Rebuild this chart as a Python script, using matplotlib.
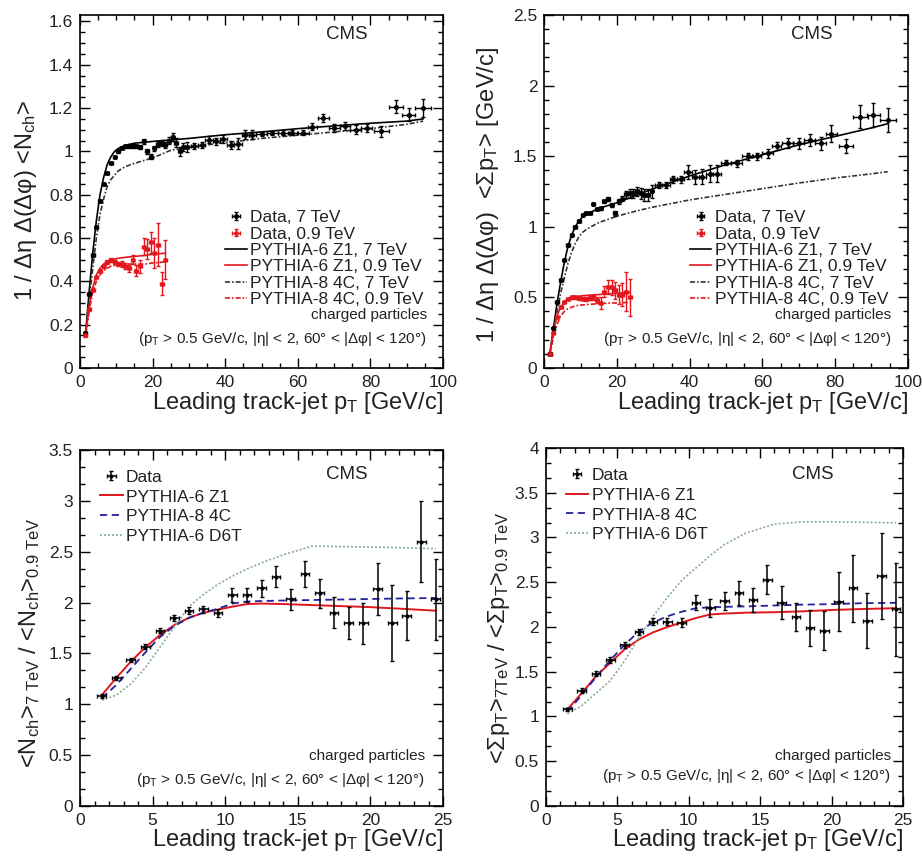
import numpy as np
import matplotlib
matplotlib.use("Agg")
import matplotlib.pyplot as plt
from matplotlib.ticker import MultipleLocator, AutoMinorLocator, FuncFormatter
from matplotlib.legend_handler import HandlerErrorbar

plt.rcParams["font.family"] = ["Liberation Sans", "DejaVu Sans"]
plt.rcParams["mathtext.fontset"] = "custom"
plt.rcParams["mathtext.rm"] = "Liberation Sans"
plt.rcParams["mathtext.it"] = "Liberation Sans"
plt.rcParams["mathtext.default"] = "regular"

TEXT = "#222222"
RED = "#e3161d"
BLUE = "#23239a"
GREEN = "#86ad92"
TITLE_SIZE = 17

# ---- leading track-jet pT binning (GeV/c) ----
pt_lo = [1.5, 2.5, 3.5, 4.5, 5.5, 6.5, 7.5, 8.5, 9.5, 10.5, 11.5, 12.5, 13.5, 14.5, 15.5,
         16.5, 17.5, 18.5, 19.5, 20.5, 21.5, 22.5, 23.5, 24.5, 25.5, 26.5, 27.5, 28.5, 29.5]
pt_hi = [31.5, 33.5, 35.5, 37.5, 39.5, 41.5, 43.5, 45.5, 47.5, 50, 53, 56, 58.5, 61.5,
         64, 67, 70, 73, 76, 79, 83, 87, 90.5, 94.5]
pt_hi_halfwidth = [1, 1, 1, 1, 1, 1, 1, 1, 1, 1.5, 1.5, 1.5, 1.25, 1.5, 1.25, 1.5, 1.5, 1.5,
                   1.5, 1.5, 2, 2, 1.75, 2.25]
pt_09 = pt_lo[:23]

# ---- charged multiplicity density, 7 TeV ----
nch7_lo = [0.16, 0.34, 0.52, 0.65, 0.77, 0.85, 0.90, 0.946, 0.976, 1.0, 1.015, 1.023, 1.025,
           1.025, 1.023, 1.02, 1.046, 1.0, 0.976, 1.015, 1.034, 1.04, 1.03, 1.05, 1.065,
           1.04, 1.0, 1.02, 1.02]
nch7_lo_err = [0.005, 0.005, 0.005, 0.005, 0.005, 0.005, 0.005, 0.005, 0.005, 0.006, 0.006,
               0.006, 0.007, 0.007, 0.008, 0.008, 0.01, 0.01, 0.012, 0.012, 0.012, 0.014,
               0.015, 0.016, 0.018, 0.02, 0.02, 0.02, 0.022]
nch7_hi = [1.025, 1.03, 1.054, 1.046, 1.057, 1.03, 1.035, 1.077, 1.077, 1.081, 1.085, 1.087,
           1.087, 1.087, 1.115, 1.154, 1.108, 1.118, 1.10, 1.108, 1.092, 1.207, 1.169, 1.20]
nch7_hi_err = [0.015, 0.015, 0.015, 0.015, 0.02, 0.02, 0.025, 0.02, 0.02, 0.01, 0.01, 0.01,
               0.01, 0.012, 0.015, 0.02, 0.02, 0.02, 0.02, 0.02, 0.025, 0.03, 0.03, 0.04]
# ---- charged multiplicity density, 0.9 TeV ----
nch09 = [0.15, 0.27, 0.36, 0.42, 0.45, 0.47, 0.49, 0.50, 0.49, 0.48, 0.48, 0.47, 0.46, 0.50,
         0.45, 0.47, 0.56, 0.55, 0.58, 0.53, 0.57, 0.39, 0.50]
nch09_err = [0.005, 0.005, 0.005, 0.005, 0.006, 0.007, 0.008, 0.009, 0.01, 0.011, 0.012, 0.013,
             0.015, 0.02, 0.025, 0.03, 0.04, 0.045, 0.05, 0.07, 0.1, 0.055, 0.09]

# ---- sum pT density, 7 TeV and 0.9 TeV ----
sum7_lo = [0.10, 0.28, 0.47, 0.62, 0.765, 0.87, 0.94, 1.0, 1.04, 1.083, 1.10, 1.10, 1.16,
           1.126, 1.13, 1.18, 1.20, 1.155, 1.095, 1.18, 1.20, 1.23, 1.237, 1.237, 1.25,
           1.237, 1.225, 1.225, 1.25]
sum7_lo_err = [0.005, 0.005, 0.005, 0.005, 0.005, 0.005, 0.005, 0.005, 0.005, 0.006, 0.007,
               0.008, 0.009, 0.01, 0.011, 0.012, 0.014, 0.015, 0.017, 0.02, 0.02, 0.025, 0.03,
               0.03, 0.035, 0.04, 0.04, 0.045, 0.045]
sum7_hi = [1.296, 1.296, 1.336, 1.336, 1.39, 1.355, 1.355, 1.374, 1.374, 1.454, 1.45, 1.50,
           1.50, 1.52, 1.572, 1.596, 1.59, 1.615, 1.59, 1.66, 1.572, 1.78, 1.79, 1.756]
sum7_hi_err = [0.02, 0.02, 0.025, 0.025, 0.05, 0.05, 0.055, 0.06, 0.06, 0.02, 0.025, 0.025,
               0.025, 0.03, 0.03, 0.035, 0.04, 0.04, 0.045, 0.06, 0.05, 0.08, 0.085, 0.085]
sum09 = [0.10, 0.25, 0.36, 0.43, 0.47, 0.49, 0.50, 0.50, 0.495, 0.49, 0.49, 0.495, 0.50, 0.48,
         0.46, 0.54, 0.575, 0.57, 0.55, 0.52, 0.52, 0.54, 0.50]
sum09_err = [0.005, 0.005, 0.005, 0.006, 0.007, 0.008, 0.009, 0.01, 0.011, 0.012, 0.013, 0.015,
             0.017, 0.02, 0.04, 0.04, 0.05, 0.05, 0.06, 0.07, 0.08, 0.14, 0.13]

# ---- MC predictions for the densities ----
mc7_pt = [1.5, 2.5, 3.5, 4.5, 5.5, 6.5, 7.5, 8.5, 9.5, 10.5, 11.5, 12.5, 15, 20, 25, 30, 40,
          50, 60, 70, 80, 90, 94.5]
nch7_z1 = [0.15, 0.35, 0.53, 0.68, 0.80, 0.88, 0.94, 0.975, 1.0, 1.013, 1.022, 1.028, 1.038,
           1.046, 1.053, 1.06, 1.077, 1.09, 1.105, 1.118, 1.13, 1.14, 1.15]
nch7_4c = [0.14, 0.31, 0.46, 0.60, 0.71, 0.78, 0.84, 0.87, 0.89, 0.91, 0.92, 0.93, 0.945,
           0.97, 1.005, 1.02, 1.04, 1.06, 1.075, 1.09, 1.105, 1.125, 1.14]
sum7_z1 = [0.10, 0.28, 0.46, 0.61, 0.75, 0.86, 0.94, 1.0, 1.04, 1.07, 1.09, 1.10, 1.13, 1.17,
           1.22, 1.27, 1.36, 1.44, 1.51, 1.58, 1.64, 1.70, 1.73]
sum7_4c = [0.09, 0.25, 0.40, 0.53, 0.64, 0.74, 0.82, 0.88, 0.93, 0.96, 0.98, 0.995, 1.03,
           1.075, 1.11, 1.14, 1.19, 1.23, 1.27, 1.31, 1.345, 1.375, 1.39]
mc09_pt = [1.5, 2.5, 3.5, 4.5, 5.5, 6.5, 7.5, 8.5, 10, 12, 15, 18, 20, 23.5]
nch09_z1 = [0.15, 0.28, 0.37, 0.43, 0.46, 0.48, 0.49, 0.50, 0.505, 0.51, 0.515, 0.52, 0.525, 0.53]
nch09_4c = [0.14, 0.26, 0.35, 0.40, 0.43, 0.45, 0.46, 0.47, 0.475, 0.48, 0.48, 0.48, 0.485, 0.49]
sum09_z1 = [0.10, 0.26, 0.37, 0.43, 0.47, 0.49, 0.50, 0.505, 0.51, 0.515, 0.52, 0.525, 0.53, 0.535]
sum09_4c = [0.09, 0.22, 0.31, 0.37, 0.40, 0.42, 0.43, 0.44, 0.445, 0.45, 0.455, 0.46, 0.46, 0.465]

# ---- 7 TeV / 0.9 TeV ratios ----
ratio_pt = [1.5, 2.5, 3.5, 4.5, 5.5, 6.5, 7.5, 8.5, 9.5, 10.5, 11.5, 12.5, 13.5, 14.5, 15.5,
            16.5, 17.5, 18.5, 19.5, 20.5, 21.5, 22.5, 23.5, 24.5]
ratio_nch = [1.08, 1.255, 1.435, 1.566, 1.724, 1.845, 1.92, 1.934, 1.90, 2.075, 2.075, 2.14,
             2.255, 2.03, 2.28, 2.09, 1.90, 1.80, 1.796, 2.13, 1.80, 1.87, 2.60, 2.03]
ratio_nch_err = [0.02, 0.02, 0.02, 0.025, 0.025, 0.03, 0.035, 0.035, 0.04, 0.065, 0.065, 0.082,
                 0.1, 0.107, 0.124, 0.14, 0.155, 0.155, 0.2, 0.257, 0.37, 0.24, 0.4, 0.4]
ratio_sum = [1.08, 1.29, 1.48, 1.63, 1.80, 1.94, 2.06, 2.06, 2.05, 2.27, 2.21, 2.29, 2.38,
             2.30, 2.53, 2.27, 2.11, 1.99, 1.96, 2.28, 2.43, 2.07, 2.57, 2.20]
ratio_sum_err = [0.02, 0.025, 0.03, 0.03, 0.03, 0.035, 0.035, 0.04, 0.05, 0.085, 0.1, 0.105,
                 0.13, 0.134, 0.16, 0.186, 0.16, 0.2, 0.22, 0.33, 0.37, 0.31, 0.48, 0.52]

mc_ratio_pt = [1.5, 2.5, 3.5, 4.5, 5.5, 6.5, 7.5, 8.5, 9.5, 10.5, 11.5, 12.5, 14, 16, 18, 20,
               22, 24.5]
rnch_z1 = [1.09, 1.26, 1.42, 1.56, 1.68, 1.78, 1.85, 1.90, 1.93, 1.96, 1.985, 1.99, 1.985,
           1.975, 1.965, 1.955, 1.94, 1.92]
rnch_4c = [1.06, 1.19, 1.35, 1.51, 1.66, 1.77, 1.85, 1.90, 1.94, 1.99, 2.01, 2.015, 2.02,
           2.025, 2.03, 2.035, 2.04, 2.045]
rnch_d6t = [1.04, 1.09, 1.20, 1.36, 1.56, 1.76, 1.96, 2.08, 2.18, 2.26, 2.33, 2.39, 2.47,
            2.555, 2.55, 2.545, 2.54, 2.53]
rsum_z1 = [1.08, 1.26, 1.45, 1.60, 1.75, 1.86, 1.94, 2.00, 2.05, 2.10, 2.14, 2.15, 2.16,
           2.165, 2.175, 2.19, 2.20, 2.21]
rsum_4c = [1.05, 1.24, 1.44, 1.63, 1.80, 1.95, 2.05, 2.12, 2.17, 2.21, 2.22, 2.225, 2.23,
           2.24, 2.25, 2.255, 2.265, 2.27]
rsum_d6t = [1.03, 1.12, 1.26, 1.40, 1.62, 1.88, 2.12, 2.33, 2.52, 2.66, 2.80, 2.92, 3.05,
            3.15, 3.175, 3.175, 3.17, 3.165]

CUTS = "(p$_T$ > 0.5 GeV/c, |η| < 2, 60° < |Δφ| < 120°)"
XTITLE = "Leading track-jet p$_T$ [GeV/c]"
DASHDOT = (0, (3, 1.2, 1, 1.2))


def style_axes(ax, xmax, xmajor, xdiv, ymax, ymajor, ydiv):
    ax.set_xlim(0, xmax)
    ax.set_ylim(0, ymax)
    ax.xaxis.set_major_locator(MultipleLocator(xmajor))
    ax.xaxis.set_minor_locator(AutoMinorLocator(xdiv))
    ax.yaxis.set_major_locator(MultipleLocator(ymajor))
    ax.yaxis.set_minor_locator(AutoMinorLocator(ydiv))
    fmt = FuncFormatter(lambda v, p: f"{v:g}")
    ax.xaxis.set_major_formatter(fmt)
    ax.yaxis.set_major_formatter(fmt)
    ax.tick_params(which="both", direction="in", top=True, right=True, width=1.0,
                   labelsize=12.5, labelcolor=TEXT, pad=5)
    ax.tick_params(which="major", length=7.5)
    ax.tick_params(which="minor", length=3.8)
    for sp in ax.spines.values():
        sp.set_linewidth(1.2)
    ax.set_xlabel(XTITLE, loc="right", fontsize=TITLE_SIZE, color=TEXT)


def add_cuts(ax, x, y1, y2):
    ax.text(x, y1, "charged particles", transform=ax.transAxes, ha="right", va="center",
            fontsize=11, color=TEXT)
    ax.text(x, y2, CUTS, transform=ax.transAxes, ha="right", va="center",
            fontsize=11, color=TEXT)


def density_panel(ax, d7_lo, e7_lo, d7_hi, e7_hi, d09, e09, z1_7, c4_7, z1_09, c4_09):
    x7 = np.concatenate([pt_lo, pt_hi])
    xe7 = np.concatenate([np.full(len(pt_lo), 0.5), pt_hi_halfwidth])
    y7 = np.concatenate([d7_lo, d7_hi])
    ye7 = np.concatenate([e7_lo, e7_hi])
    l_z1_7, = ax.plot(mc7_pt, z1_7, color="black", lw=1.2, zorder=2)
    l_c4_7, = ax.plot(mc7_pt, c4_7, color="#333333", lw=1.2, ls=DASHDOT, zorder=2)
    l_z1_09, = ax.plot(mc09_pt, z1_09, color=RED, lw=1.2, zorder=2)
    l_c4_09, = ax.plot(mc09_pt, c4_09, color=RED, lw=1.2, ls=DASHDOT, zorder=2)
    d7 = ax.errorbar(x7, y7, yerr=ye7, xerr=xe7, fmt="o", ms=2.6, color="black",
                     elinewidth=1.0, capsize=1.5, capthick=1.0, zorder=3)
    d09 = ax.errorbar(pt_09, d09, yerr=e09, xerr=0.5, fmt="o", ms=2.4, color=RED,
                      elinewidth=1.0, capsize=1.5, capthick=1.0, zorder=3)
    ax.legend([d7, d09, l_z1_7, l_z1_09, l_c4_7, l_c4_09],
              ["Data, 7 TeV", "Data, 0.9 TeV", "PYTHIA-6 Z1, 7 TeV", "PYTHIA-6 Z1, 0.9 TeV",
               "PYTHIA-8 4C, 7 TeV", "PYTHIA-8 4C, 0.9 TeV"],
              handler_map={type(d7): HandlerErrorbar(xerr_size=0.22, yerr_size=0.22)},
              loc="upper left", bbox_to_anchor=(0.40, 0.447), frameon=False, fontsize=12.5,
              borderpad=0, borderaxespad=0, handlelength=1.25, handletextpad=0.2,
              labelspacing=0.07, labelcolor=TEXT)
    ax.text(0.735, 0.946, "CMS", transform=ax.transAxes, ha="center", va="center",
            fontsize=13.5, color=TEXT)
    add_cuts(ax, 0.955, 0.15, 0.082)


def ratio_panel(ax, data, err, z1, c4, d6t):
    l_z1, = ax.plot(mc_ratio_pt, z1, color=RED, lw=1.4, zorder=2)
    l_c4, = ax.plot(mc_ratio_pt, c4, color=BLUE, lw=1.3, ls=(0, (4, 2.5)), zorder=2)
    l_d6, = ax.plot(mc_ratio_pt, d6t, color=GREEN, lw=1.2, ls=(0, (1.2, 1.2)), zorder=2)
    dat = ax.errorbar(ratio_pt, data, yerr=err, xerr=0.3, fmt="o", ms=2.0, color="black",
                      elinewidth=1.1, capsize=1.5, capthick=1.0, zorder=3)
    ax.legend([dat, l_z1, l_c4, l_d6], ["Data", "PYTHIA-6 Z1", "PYTHIA-8 4C", "PYTHIA-6 D6T"],
              handler_map={type(dat): HandlerErrorbar(xerr_size=0.25, yerr_size=0.25)},
              loc="upper left", bbox_to_anchor=(0.055, 0.945), frameon=False, fontsize=12.5,
              borderpad=0, borderaxespad=0, handlelength=1.3, handletextpad=0.2,
              labelspacing=0.27, labelcolor=TEXT)


fig = plt.figure(figsize=(9.22, 8.66), dpi=100)

# top left: multiplicity density
ax1 = fig.add_axes([0.0868, 0.5751, 0.3937, 0.4076])
style_axes(ax1, 100, 20, 4, 1.63, 0.2, 4)
density_panel(ax1, nch7_lo, nch7_lo_err, nch7_hi, nch7_hi_err, nch09, nch09_err,
              nch7_z1, nch7_4c, nch09_z1, nch09_4c)
ax1.set_ylabel("1 / Δη Δ(Δφ) <N$_{ch}$>", fontsize=TITLE_SIZE, color=TEXT)
ax1.yaxis.set_label_coords(-0.112, 0.476)
ax1.xaxis.set_label_coords(1.0, -0.063)

# top right: sum pT density
ax2 = fig.add_axes([0.5904, 0.5751, 0.3941, 0.4076])
style_axes(ax2, 100, 20, 4, 2.5, 0.5, 5)
density_panel(ax2, sum7_lo, sum7_lo_err, sum7_hi, sum7_hi_err, sum09, sum09_err,
              sum7_z1, sum7_4c, sum09_z1, sum09_4c)
ax2.set_ylabel("1 / Δη Δ(Δφ)  <Σp$_T$> [GeV/c]", fontsize=TITLE_SIZE, color=TEXT)
ax2.yaxis.set_label_coords(-0.118, 0.49)
ax2.xaxis.set_label_coords(1.0, -0.063)

# bottom left: multiplicity ratio
ax3 = fig.add_axes([0.0868, 0.0693, 0.3937, 0.4111])
style_axes(ax3, 25, 5, 5, 3.5, 0.5, 3)
ratio_panel(ax3, ratio_nch, ratio_nch_err, rnch_z1, rnch_4c, rnch_d6t)
ax3.text(0.735, 0.93, "CMS", transform=ax3.transAxes, ha="center", va="center",
         fontsize=13.5, color=TEXT)
add_cuts(ax3, 0.95, 0.14, 0.074)
ax3.set_ylabel("<N$_{ch}$>$_{7\\ TeV}$ / <N$_{ch}$>$_{0.9\\ TeV}$", fontsize=TITLE_SIZE,
               color=TEXT)
ax3.yaxis.set_label_coords(-0.105, 0.458)
ax3.xaxis.set_label_coords(1.0, -0.058)

# bottom right: sum pT ratio
ax4 = fig.add_axes([0.5922, 0.0693, 0.3872, 0.4134])
style_axes(ax4, 25, 5, 5, 4, 0.5, 3)
ratio_panel(ax4, ratio_sum, ratio_sum_err, rsum_z1, rsum_4c, rsum_d6t)
ax4.text(0.747, 0.925, "CMS", transform=ax4.transAxes, ha="center", va="center",
         fontsize=13.5, color=TEXT)
add_cuts(ax4, 0.966, 0.14, 0.084)
ax4.set_ylabel("<Σp$_T$>$_{7TeV}$ / <Σp$_T$>$_{0.9\\ TeV}$", fontsize=TITLE_SIZE, color=TEXT)
ax4.yaxis.set_label_coords(-0.095, 0.47)
ax4.xaxis.set_label_coords(1.0, -0.058)

fig.savefig("out.png", dpi=100)
